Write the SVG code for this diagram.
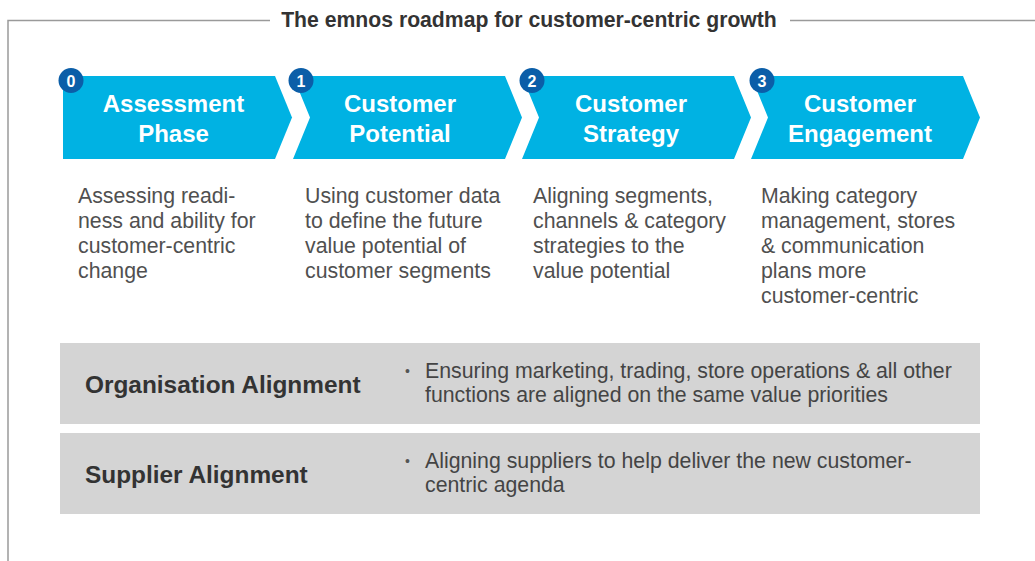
<svg xmlns="http://www.w3.org/2000/svg" width="1035" height="561" viewBox="0 0 1035 561">
  <style>
    .frame { fill: none; stroke: #9a9a9a; stroke-width: 1.5; }
    .title { font-family: "Liberation Sans", Arial, sans-serif; font-weight: bold; font-size: 21.2px; fill: #333333; }
    .chev { fill: #00B2E3; }
    .badge { fill: #0B5EA8; }
    .badge-num { font-family: "Liberation Sans", Arial, sans-serif; font-weight: bold; font-size: 16px; fill: #ffffff; text-anchor: middle; }
    .chev-label { font-family: "Liberation Sans", Arial, sans-serif; font-weight: bold; font-size: 24px; fill: #ffffff; text-anchor: middle; }
    .desc { font-family: "Liberation Sans", Arial, sans-serif; font-size: 21.3px; fill: #505050; }
    .band { fill: #d4d4d4; }
    .band-head { font-family: "Liberation Sans", Arial, sans-serif; font-weight: bold; font-size: 24.4px; fill: #333333; }
    .band-text { font-family: "Liberation Sans", Arial, sans-serif; font-size: 21.3px; fill: #444444; }
    .bullet { font-family: "Liberation Sans", Arial, sans-serif; font-size: 14px; fill: #555555; }
  </style>

  <rect width="1035" height="561" fill="#ffffff"/>

  <!-- titled frame -->
  <g id="frame">
    <path class="frame" d="M8 561 V20.5 H270"/>
    <path class="frame" d="M790 20.5 H1035"/>
    <text class="title" x="529" y="27" text-anchor="middle">The emnos roadmap for customer-centric growth</text>
  </g>

  <!-- phase chevrons -->
  <g id="phase-0">
    <polygon class="chev" points="63,76 275,76 292,117.5 275,159 63,159"/>
    <circle class="badge" cx="71" cy="80.5" r="12.5"/>
    <text class="badge-num" x="71" y="86.5">0</text>
    <text class="chev-label" x="173.5" y="112">Assessment</text>
    <text class="chev-label" x="173.5" y="142">Phase</text>
    <text class="desc" x="78" y="203">Assessing readi-</text>
    <text class="desc" x="78" y="228">ness and ability for</text>
    <text class="desc" x="78" y="253">customer-centric</text>
    <text class="desc" x="78" y="278">change</text>
  </g>

  <g id="phase-1">
    <polygon class="chev" points="293,76 505,76 522,117.5 505,159 293,159 310,117.5"/>
    <circle class="badge" cx="301" cy="80.5" r="12.5"/>
    <text class="badge-num" x="301" y="86.5">1</text>
    <text class="chev-label" x="400" y="112">Customer</text>
    <text class="chev-label" x="400" y="142">Potential</text>
    <text class="desc" x="305" y="203">Using customer data</text>
    <text class="desc" x="305" y="228">to define the future</text>
    <text class="desc" x="305" y="253">value potential of</text>
    <text class="desc" x="305" y="278">customer segments</text>
  </g>

  <g id="phase-2">
    <polygon class="chev" points="522,76 734,76 751,117.5 734,159 522,159 539,117.5"/>
    <circle class="badge" cx="532" cy="80.5" r="12.5"/>
    <text class="badge-num" x="532" y="86.5">2</text>
    <text class="chev-label" x="631" y="112">Customer</text>
    <text class="chev-label" x="631" y="142">Strategy</text>
    <text class="desc" x="533" y="203">Aligning segments,</text>
    <text class="desc" x="533" y="228">channels &amp; category</text>
    <text class="desc" x="533" y="253">strategies to the</text>
    <text class="desc" x="533" y="278">value potential</text>
  </g>

  <g id="phase-3">
    <polygon class="chev" points="751,76 963,76 980,117.5 963,159 751,159 768,117.5"/>
    <circle class="badge" cx="762" cy="80.5" r="12.5"/>
    <text class="badge-num" x="762" y="86.5">3</text>
    <text class="chev-label" x="860" y="112">Customer</text>
    <text class="chev-label" x="860" y="142">Engagement</text>
    <text class="desc" x="761" y="203">Making category</text>
    <text class="desc" x="761" y="228">management, stores</text>
    <text class="desc" x="761" y="253">&amp; communication</text>
    <text class="desc" x="761" y="278">plans more</text>
    <text class="desc" x="761" y="303">customer-centric</text>
  </g>

  <!-- alignment bands -->
  <g id="organisation-alignment">
    <rect class="band" x="60" y="343" width="920" height="81"/>
    <text class="band-head" x="85" y="393">Organisation Alignment</text>
    <text class="bullet" x="405" y="376">•</text>
    <text class="band-text" x="425" y="378">Ensuring marketing, trading, store operations &amp; all other</text>
    <text class="band-text" x="425" y="402">functions are aligned on the same value priorities</text>
  </g>

  <g id="supplier-alignment">
    <rect class="band" x="60" y="433" width="920" height="81"/>
    <text class="band-head" x="85" y="483">Supplier Alignment</text>
    <text class="bullet" x="405" y="466">•</text>
    <text class="band-text" x="425" y="468">Aligning suppliers to help deliver the new customer-</text>
    <text class="band-text" x="425" y="492">centric agenda</text>
  </g>

  <g id="connectors"></g>
</svg>
